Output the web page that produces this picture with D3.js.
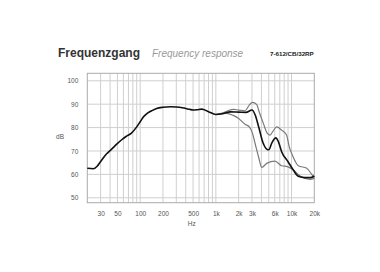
<!DOCTYPE html>
<html>
<head>
<meta charset="utf-8">
<script src="https://cdn.jsdelivr.net/npm/d3@7"></script>
<style>
  body { margin: 0; background: #fff; }
  text { font-family: "Liberation Sans", Arial, sans-serif; }
</style>
</head>
<body>
<div id="chart"></div>
<script>
// values
var yTicks = [50, 60, 70, 80, 90, 100];
var xTickVals = [30, 50, 100, 200, 500, 1000, 2000, 3000, 6000, 10000, 20000];
var xTickLabels = ["30", "50", "100", "200", "500", "1k", "2k", "3k", "6k", "10k", "20k"];

var blackFreq = [20, 24, 27, 30, 36, 42, 49, 57, 65, 76, 90, 100, 110, 125, 142, 165, 200, 250, 300, 360, 450, 500, 560, 650, 800, 1000, 1250, 1550, 2000, 2500, 3000, 3300, 3700, 4200, 4700, 5000, 5500, 6200, 6700, 7400, 9000, 10500, 12300, 15000, 18000, 20000];
var blackDb = [62.6, 62.4, 63.5, 65.5, 68.8, 70.8, 72.9, 74.8, 76.2, 77.5, 80.3, 82.5, 84.5, 86.2, 87.2, 88.2, 88.7, 88.9, 88.8, 88.5, 87.8, 87.5, 87.6, 87.9, 86.8, 85.6, 86.0, 86.7, 86.6, 86.5, 87.5, 85.5, 80, 73.5, 70.8, 70.5, 73.5, 75.6, 74, 69.7, 65.4, 62, 59.2, 58.6, 58.6, 59.3];

var upperFreq = [1000, 1250, 1500, 1700, 2000, 2430, 2750, 3050, 3450, 3800, 4240, 4800, 5200, 5700, 6370, 7400, 8600, 9300, 10500, 12300, 15900, 18500, 20000];
var upperDb = [85.6, 86.3, 87.4, 87.8, 87.5, 87.2, 89.5, 90.8, 89.9, 86, 81.8, 77.5, 76.8, 78.5, 80.3, 78.9, 76.8, 72, 67.5, 63.7, 62.6, 60, 58.6];

var lowerFreq = [1000, 1390, 1700, 2000, 2430, 2770, 3050, 3300, 3700, 4040, 4700, 6040, 7400, 8800, 10500, 13000, 17500, 20000];
var lowerDb = [85.6, 86.1, 85.2, 83.9, 81.4, 80.3, 77.5, 73.2, 67, 63, 64.7, 65.7, 63.7, 63.3, 62, 59.3, 57.9, 58.3];

var W = 380, H = 272;
var pLeft = 87.3, pRight = 314.3, pTop = 73.3, pBottom = 202.7;

var svg = d3.select("#chart").append("svg")
  .attr("width", W).attr("height", H);

var x = d3.scaleLog().domain([20, 20000]).range([pLeft, pRight]);
var y = d3.scaleLinear().domain([47.9, 103.2]).range([pBottom, pTop]);

// titles
svg.append("text").attr("x", 58).attr("y", 56.7)
  .attr("font-size", 12).attr("font-weight", "bold").attr("fill", "#333")
  .text("Frequenzgang");
svg.append("text").attr("x", 152).attr("y", 56.7)
  .attr("font-size", 10).attr("font-style", "italic").attr("fill", "#999")
  .text("Frequency response");
svg.append("text").attr("x", 270).attr("y", 55.5)
  .attr("font-size", 6.2).attr("font-weight", "bold").attr("fill", "#222")
  .text("7-612/CB/32RP");

// grid
var minor = [];
[10, 100, 1000, 10000].forEach(function(dec) {
  for (var k = 1; k <= 9; k++) {
    var f = dec * k;
    if (f > 20 && f < 20000) minor.push(f);
  }
});

var g = svg.append("g");
g.selectAll("line.vx").data(minor).enter().append("line")
  .attr("x1", function(d) { return x(d); }).attr("x2", function(d) { return x(d); })
  .attr("y1", pTop).attr("y2", pBottom)
  .attr("stroke", "#cfcfcf").attr("stroke-width", 1);
g.selectAll("line.hy").data(yTicks).enter().append("line")
  .attr("x1", pLeft).attr("x2", pRight)
  .attr("y1", function(d) { return y(d); }).attr("y2", function(d) { return y(d); })
  .attr("stroke", "#cfcfcf").attr("stroke-width", 1);
g.append("rect").attr("x", pLeft).attr("y", pTop)
  .attr("width", pRight - pLeft).attr("height", pBottom - pTop)
  .attr("fill", "none").attr("stroke", "#aaa").attr("stroke-width", 1);

// axes (labels only)
var yAxis = d3.axisLeft(y).tickValues(yTicks).tickSize(0).tickPadding(9);
svg.append("g").attr("transform", "translate(" + pLeft + ",0)").call(yAxis)
  .call(function(s) { s.select(".domain").remove(); })
  .selectAll("text").attr("font-size", 6.5).attr("fill", "#555")
  .attr("font-family", "Liberation Sans, Arial, sans-serif");

var xAxis = d3.axisBottom(x).tickValues(xTickVals).tickSize(0).tickPadding(9)
  .tickFormat(function(d, i) { return xTickLabels[i]; });
svg.append("g").attr("transform", "translate(0," + pBottom + ")").call(xAxis)
  .call(function(s) { s.select(".domain").remove(); })
  .selectAll("text").attr("font-size", 6.5).attr("fill", "#555")
  .attr("font-family", "Liberation Sans, Arial, sans-serif");

svg.append("text").attr("x", 60).attr("y", 138.5).attr("text-anchor", "middle")
  .attr("font-size", 6.5).attr("fill", "#555").text("dB");
svg.append("text").attr("x", 191.7).attr("y", 225.5).attr("text-anchor", "middle")
  .attr("font-size", 6.5).attr("fill", "#555").text("Hz");

// curves
var line = d3.line()
  .x(function(d) { return x(d[0]); })
  .y(function(d) { return y(d[1]); })
  .curve(d3.curveMonotoneX);

function pairs(fs, vs) { return fs.map(function(f, i) { return [f, vs[i]]; }); }

svg.append("path").datum(pairs(upperFreq, upperDb))
  .attr("d", line).attr("fill", "none").attr("stroke", "#7a7a7a").attr("stroke-width", 1.2);
svg.append("path").datum(pairs(lowerFreq, lowerDb))
  .attr("d", line).attr("fill", "none").attr("stroke", "#7a7a7a").attr("stroke-width", 1.2);
svg.append("path").datum(pairs(blackFreq, blackDb))
  .attr("d", line).attr("fill", "none").attr("stroke", "#111").attr("stroke-width", 1.6);
</script>
</body>
</html>
